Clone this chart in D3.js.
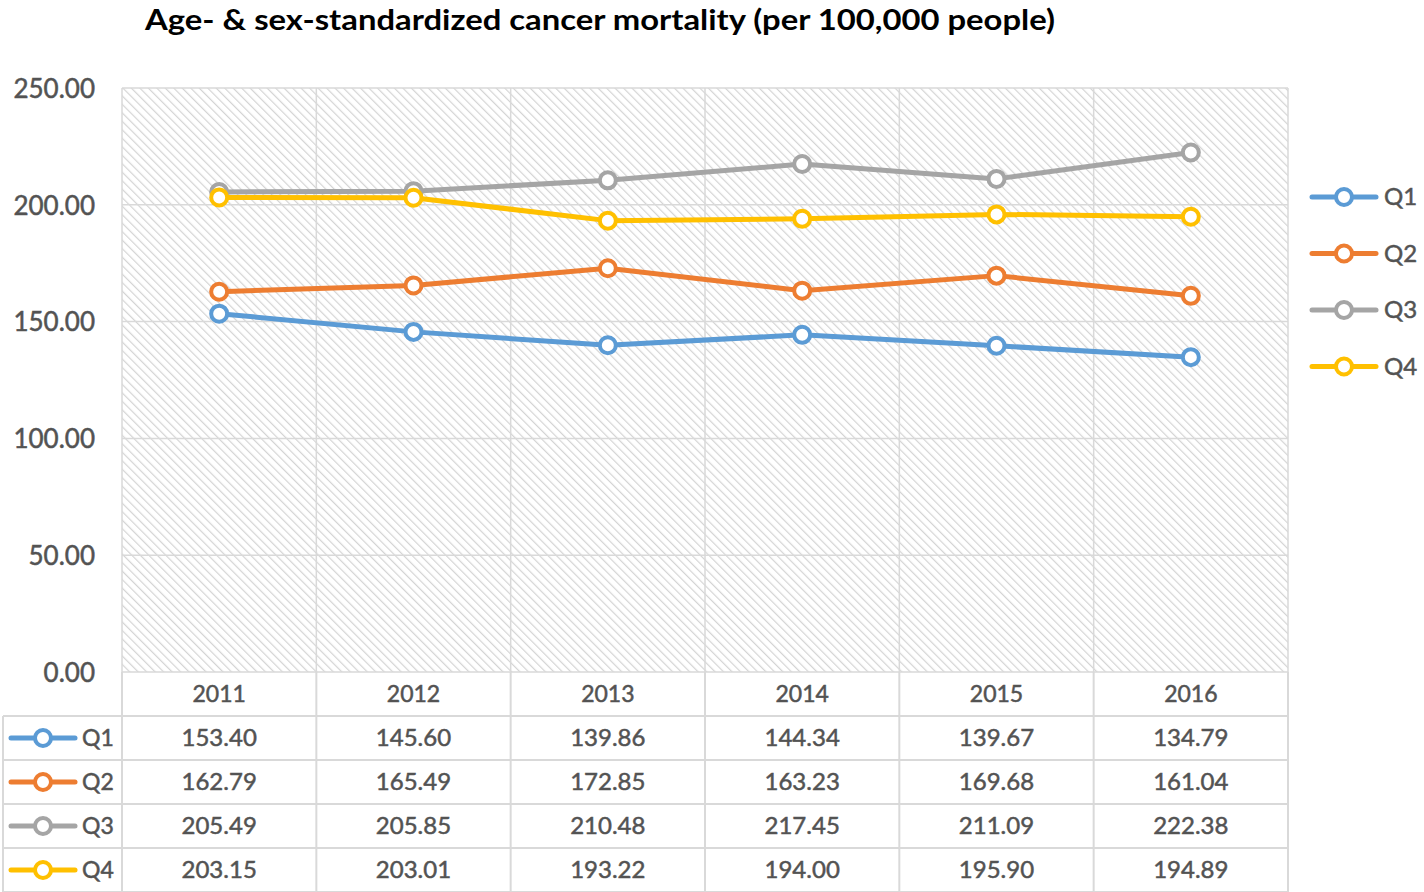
<!DOCTYPE html>
<html>
<head>
<meta charset="utf-8">
<script src="https://cdn.jsdelivr.net/npm/d3@7"></script>
<style>
  body { margin: 0; background: #fff; }
  svg { display: block; font-family: Lato, "Open Sans", sans-serif; }
</style>
</head>
<body>
<div id="chart"></div>
<script>
const years = ["2011", "2012", "2013", "2014", "2015", "2016"];
const seriesNames = ["Q1", "Q2", "Q3", "Q4"];
const q1 = [153.40, 145.60, 139.86, 144.34, 139.67, 134.79];
const q2 = [162.79, 165.49, 172.85, 163.23, 169.68, 161.04];
const q3 = [205.49, 205.85, 210.48, 217.45, 211.09, 222.38];
const q4 = [203.15, 203.01, 193.22, 194.00, 195.90, 194.89];
const yTicks = [0, 50, 100, 150, 200, 250];
const colors = ["#5b9bd5", "#ed7d31", "#a5a5a5", "#ffc000"];

const allSeries = [q1, q2, q3, q4].map((vals, i) => ({ name: seriesNames[i], values: vals, color: colors[i] }));

const width = 1424, height = 892;
const plotLeft = 122, plotRight = 1288, plotTop = 88, plotBottom = 672;
const rowH = 44;
const textColor = "#535353";

const svg = d3.select("#chart").append("svg")
    .attr("width", width)
    .attr("height", height);

// hatch pattern for plot background
const defs = svg.append("defs");
const pat = defs.append("pattern")
    .attr("id", "hatch")
    .attr("patternUnits", "userSpaceOnUse")
    .attr("width", 6)
    .attr("height", 6)
    .attr("patternTransform", "rotate(-45)");
pat.append("rect").attr("width", 6).attr("height", 6).attr("fill", "#ffffff");
pat.append("line")
    .attr("x1", 0).attr("y1", 0).attr("x2", 0).attr("y2", 6)
    .attr("stroke", "#d4d4d4")
    .attr("stroke-width", 2.4);

const x = d3.scaleBand().domain(years).range([plotLeft, plotRight]);
const y = d3.scaleLinear().domain([0, 250]).range([plotBottom, plotTop]);

// title
svg.append("text")
    .attr("x", 145)
    .attr("y", 30)
    .attr("font-size", 29)
    .attr("font-weight", "bold")
    .attr("fill", "#000")
    .attr("textLength", 910)
    .attr("lengthAdjust", "spacingAndGlyphs")
    .text("Age- & sex-standardized cancer mortality (per 100,000 people)");

svg.append("rect")
    .attr("x", plotLeft).attr("y", plotTop)
    .attr("width", plotRight - plotLeft).attr("height", plotBottom - plotTop)
    .attr("fill", "url(#hatch)");

// gridlines
svg.append("g")
    .selectAll("line")
    .data(yTicks)
    .join("line")
    .attr("x1", plotLeft).attr("x2", plotRight)
    .attr("y1", d => y(d)).attr("y2", d => y(d))
    .attr("stroke", "#d9d9d9")
    .attr("stroke-width", 1.5);

const boundaries = years.map(d => x(d)).concat([plotRight]);
svg.append("g")
    .selectAll("line")
    .data(boundaries)
    .join("line")
    .attr("x1", d => d).attr("x2", d => d)
    .attr("y1", plotTop).attr("y2", plotBottom)
    .attr("stroke", "#d9d9d9")
    .attr("stroke-width", 1.5);

// y axis labels
const yAxis = d3.axisLeft(y).tickValues(yTicks).tickFormat(d3.format(".2f")).tickSize(0).tickPadding(0);
const yg = svg.append("g")
    .attr("transform", `translate(95,0)`)
    .call(yAxis);
yg.select(".domain").remove();
yg.selectAll("text")
    .attr("font-size", 26)
    .attr("font-family", "Lato, sans-serif")
    .attr("fill", textColor)
    .attr("stroke", textColor)
    .attr("stroke-width", 0.5)
    .attr("dy", "0.36em");

// lines
const line = d3.line()
    .x((d, i) => x(years[i]) + x.bandwidth() / 2)
    .y(d => y(d));

allSeries.forEach(s => {
    svg.append("path")
        .datum(s.values)
        .attr("d", line)
        .attr("fill", "none")
        .attr("stroke", s.color)
        .attr("stroke-width", 5)
        .attr("stroke-linejoin", "round")
        .attr("stroke-linecap", "round");
    svg.append("g")
        .selectAll("circle")
        .data(s.values)
        .join("circle")
        .attr("cx", (d, i) => x(years[i]) + x.bandwidth() / 2)
        .attr("cy", d => y(d))
        .attr("r", 8)
        .attr("fill", "#fff")
        .attr("stroke", s.color)
        .attr("stroke-width", 4);
});

// legend marker helper
function legendKey(g, cx, cy, color, halfLen) {
    g.append("line")
        .attr("x1", cx - halfLen).attr("x2", cx + halfLen)
        .attr("y1", cy).attr("y2", cy)
        .attr("stroke", color)
        .attr("stroke-width", 5)
        .attr("stroke-linecap", "round");
    g.append("circle")
        .attr("cx", cx).attr("cy", cy)
        .attr("r", 8)
        .attr("fill", "#fff")
        .attr("stroke", color)
        .attr("stroke-width", 4);
}

function styleText(sel, size) {
    return sel.attr("font-size", size)
        .attr("fill", textColor)
        .attr("stroke", textColor)
        .attr("stroke-width", 0.5);
}

// right legend
const legend = svg.append("g");
allSeries.forEach((s, i) => {
    const ly = 197 + i * 56.5;
    legendKey(legend, 1344, ly, s.color, 32);
    styleText(legend.append("text")
        .attr("x", 1384)
        .attr("y", ly)
        .attr("dy", "0.35em")
        .text(s.name), 24);
});

// data table
const table = svg.append("g");
const tableLeft = 3;
const borderColor = "#d9d9d9";
const lastRowBottom = plotBottom + rowH * 5;

// header row
years.forEach(yr => {
    styleText(table.append("text")
        .attr("x", x(yr) + x.bandwidth() / 2)
        .attr("y", plotBottom + rowH / 2)
        .attr("dy", "0.35em")
        .attr("text-anchor", "middle")
        .text(yr), 23);
});

// horizontal borders
for (let r = 1; r <= 5; r++) {
    table.append("line")
        .attr("x1", tableLeft).attr("x2", plotRight)
        .attr("y1", plotBottom + r * rowH).attr("y2", plotBottom + r * rowH)
        .attr("stroke", borderColor).attr("stroke-width", 2);
}
// vertical borders
boundaries.forEach(bx => {
    table.append("line")
        .attr("x1", bx).attr("x2", bx)
        .attr("y1", plotBottom).attr("y2", lastRowBottom)
        .attr("stroke", borderColor).attr("stroke-width", 2);
});
table.append("line")
    .attr("x1", tableLeft).attr("x2", tableLeft)
    .attr("y1", plotBottom + rowH).attr("y2", lastRowBottom)
    .attr("stroke", borderColor).attr("stroke-width", 2);

allSeries.forEach((s, i) => {
    const ry = plotBottom + (i + 1) * rowH + rowH / 2;
    legendKey(table, 43, ry, s.color, 32);
    styleText(table.append("text")
        .attr("x", 82)
        .attr("y", ry)
        .attr("dy", "0.35em")
        .text(s.name), 23);
    s.values.forEach((v, j) => {
        styleText(table.append("text")
            .attr("x", x(years[j]) + x.bandwidth() / 2)
            .attr("y", ry)
            .attr("dy", "0.35em")
            .attr("text-anchor", "middle")
            .text(v.toFixed(2)), 24);
    });
});
</script>
</body>
</html>
